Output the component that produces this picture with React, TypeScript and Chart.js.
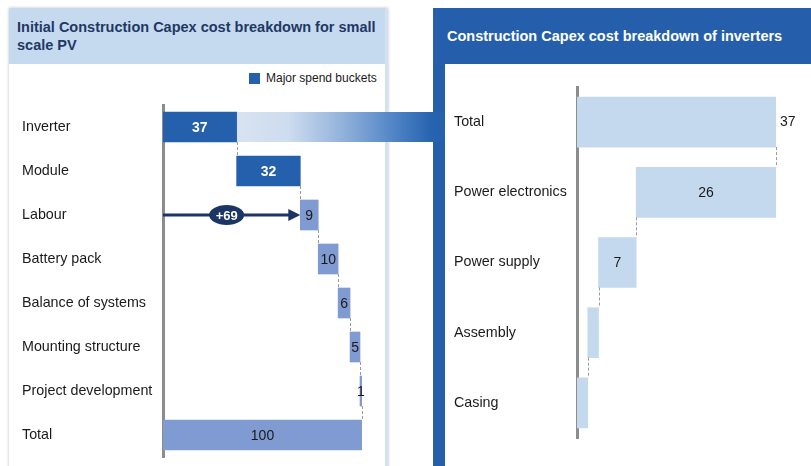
import React, { useEffect, useRef } from "react";
import Chart from "chart.js/auto";

const leftTitle = "Initial Construction Capex cost breakdown for small scale PV";
const rightTitle = "Construction Capex cost breakdown of inverters";
const legendLabel = "Major spend buckets";

const leftCategories = [
  "Inverter",
  "Module",
  "Labour",
  "Battery pack",
  "Balance of systems",
  "Mounting structure",
  "Project development",
  "Total",
];
const leftValues = [37, 32, 9, 10, 6, 5, 1, 100];
const majorBuckets = ["Inverter", "Module"];

const rightCategories = ["Total", "Power electronics", "Power supply", "Assembly", "Casing"];
const rightValues = [37, 26, 7, 2, 2];

const FONT = "'Liberation Sans', Arial, sans-serif";
const DARK_BLUE = "#2560ad";
const PERI = "#7f9bd1";
const LIGHT = "#c5d9ee";
const NAVY = "#1c3565";

function leftRanges(): [number, number][] {
  let cum = 0;
  return leftValues.map((v, i) => {
    if (i === leftValues.length - 1) return [0, v];
    const r: [number, number] = [cum, cum + v];
    cum += v;
    return r;
  });
}

function rightRanges(): [number, number][] {
  let remaining = rightValues[0];
  return rightValues.map((v, i) => {
    if (i === 0) return [0, v];
    const r: [number, number] = [remaining - v, remaining];
    remaining -= v;
    return r;
  });
}

function dashedV(ctx: CanvasRenderingContext2D, x: number, y0: number, y1: number) {
  ctx.save();
  ctx.strokeStyle = "#9a9a9a";
  ctx.lineWidth = 1;
  ctx.setLineDash([3, 2]);
  ctx.beginPath();
  ctx.moveTo(Math.round(x) + 0.5, y0);
  ctx.lineTo(Math.round(x) + 0.5, y1);
  ctx.stroke();
  ctx.restore();
}

const leftPlugin = {
  id: "leftDeco",
  beforeDatasetsDraw(chart: any) {
    const ctx = chart.ctx as CanvasRenderingContext2D;
    const meta = chart.getDatasetMeta(0);
    const first = meta.data[0];
    const h = first.height;
    const x0 = first.x;
    const x1 = chart.width;
    const g = ctx.createLinearGradient(x0, 0, x1, 0);
    g.addColorStop(0, "#d8e3f1");
    g.addColorStop(0.25, "#cddcef");
    g.addColorStop(0.52, "#8fb0da");
    g.addColorStop(0.78, "#4a80c4");
    g.addColorStop(0.93, "#2864b0");
    g.addColorStop(1, "#2560ad");
    ctx.save();
    ctx.fillStyle = g;
    ctx.fillRect(x0, first.y - h / 2, x1 - x0, h);
    ctx.restore();
  },
  afterDatasetsDraw(chart: any) {
    const ctx = chart.ctx as CanvasRenderingContext2D;
    const meta = chart.getDatasetMeta(0);
    const xs = chart.scales.x;
    const els = meta.data;
    for (let i = 0; i < els.length - 1; i++) {
      const a = els[i];
      const b = els[i + 1];
      dashedV(ctx, a.x, a.y + a.height / 2, b.y - b.height / 2);
    }
    els.forEach((el: any, i: number) => {
      const cat = leftCategories[i];
      const major = majorBuckets.includes(cat);
      ctx.save();
      ctx.font = (major ? "bold " : "") + "14px " + FONT;
      ctx.fillStyle = major ? "#ffffff" : "#1a1a1a";
      ctx.textAlign = "center";
      ctx.textBaseline = "middle";
      ctx.fillText(String(leftValues[i]), (el.x + el.base) / 2, el.y + 1);
      ctx.restore();
    });
    const labourIdx = leftCategories.indexOf("Labour");
    const lab = els[labourIdx];
    const ax0 = xs.getPixelForValue(0);
    const ax1 = lab.base;
    const ay = lab.y;
    ctx.save();
    ctx.strokeStyle = NAVY;
    ctx.fillStyle = NAVY;
    ctx.lineWidth = 3;
    ctx.beginPath();
    ctx.moveTo(ax0, ay);
    ctx.lineTo(ax1 - 10, ay);
    ctx.stroke();
    ctx.beginPath();
    ctx.moveTo(ax1, ay);
    ctx.lineTo(ax1 - 12, ay - 6);
    ctx.lineTo(ax1 - 12, ay + 6);
    ctx.closePath();
    ctx.fill();
    const before = leftValues.slice(0, labourIdx).reduce((s, v) => s + v, 0);
    const cx = (ax0 + ax1 - 10) / 2;
    ctx.beginPath();
    ctx.ellipse(cx, ay, 17.5, 10, 0, 0, Math.PI * 2);
    ctx.fill();
    ctx.fillStyle = "#ffffff";
    ctx.font = "bold 13px " + FONT;
    ctx.textAlign = "center";
    ctx.textBaseline = "middle";
    ctx.fillText("+" + before, cx, ay + 1);
    ctx.restore();
  },
};

const rightPlugin = {
  id: "rightDeco",
  afterDatasetsDraw(chart: any) {
    const ctx = chart.ctx as CanvasRenderingContext2D;
    const els = chart.getDatasetMeta(0).data;
    for (let i = 0; i < els.length - 1; i++) {
      const a = els[i];
      const b = els[i + 1];
      const x = i === 0 ? a.x : a.base;
      dashedV(ctx, x, a.y + a.height / 2, b.y - b.height / 2);
    }
    els.forEach((el: any, i: number) => {
      const v = rightValues[i];
      ctx.save();
      ctx.font = "14px " + FONT;
      ctx.fillStyle = "#1a1a1a";
      ctx.textBaseline = "middle";
      if (i === 0) {
        ctx.textAlign = "left";
        ctx.fillText(String(v), el.x + 4, el.y);
      } else if (v >= 5) {
        ctx.textAlign = "center";
        ctx.fillText(String(v), (el.x + el.base) / 2, el.y + 1);
      }
      ctx.restore();
    });
  },
};

export default function App() {
  const leftRef = useRef<HTMLCanvasElement>(null);
  const rightRef = useRef<HTMLCanvasElement>(null);

  useEffect(() => {
    const left = new Chart(leftRef.current!, {
      type: "bar",
      data: {
        labels: leftCategories,
        datasets: [
          {
            data: leftRanges() as any,
            backgroundColor: leftCategories.map((c) => (majorBuckets.includes(c) ? DARK_BLUE : PERI)),
            borderWidth: 0,
            borderSkipped: false,
            barThickness: 30,
          },
        ],
      },
      options: {
        indexAxis: "y",
        animation: false,
        responsive: false,
        layout: { padding: { left: 22, right: 83, top: 41, bottom: 9 } },
        plugins: { legend: { display: false }, tooltip: { enabled: false } },
        scales: {
          x: { display: false, min: 0, max: 100 },
          y: {
            grid: { display: false },
            border: { display: true, color: "#8c8c8c", width: 3 },
            ticks: { crossAlign: "far", color: "#1a1a1a", font: { family: FONT, size: 14.3 }, padding: 0 },
            afterFit: (s: any) => {
              s.width = 141;
            },
          },
        },
      },
      plugins: [leftPlugin],
    });

    const right = new Chart(rightRef.current!, {
      type: "bar",
      data: {
        labels: rightCategories,
        datasets: [
          {
            data: rightRanges() as any,
            backgroundColor: LIGHT,
            borderWidth: 0,
            borderSkipped: false,
            barThickness: 50,
          },
        ],
      },
      options: {
        indexAxis: "y",
        animation: false,
        responsive: false,
        layout: { padding: { left: 9, right: 35, top: 23, bottom: 28 } },
        plugins: { legend: { display: false }, tooltip: { enabled: false } },
        scales: {
          x: { display: false, min: 0, max: rightValues[0] },
          y: {
            grid: { display: false },
            border: { display: true, color: "#8c8c8c", width: 3 },
            ticks: { crossAlign: "far", color: "#1a1a1a", font: { family: FONT, size: 14.3 }, padding: 0 },
            afterFit: (s: any) => {
              s.width = 123;
            },
          },
        },
      },
      plugins: [rightPlugin],
    });

    return () => {
      left.destroy();
      right.destroy();
    };
  }, []);

  return (
    <div
      style={{
        position: "fixed",
        left: 0,
        top: 0,
        width: 811,
        height: 466,
        overflow: "hidden",
        background: "#ffffff",
        fontFamily: FONT,
      }}
    >
      <div
        style={{
          position: "absolute",
          left: 9,
          top: 8,
          width: 379,
          height: 470,
          background: "#ffffff",
          boxShadow: "0 0 3px rgba(0,0,0,0.25)",
          borderRight: "3px solid #d3e2f2",
          boxSizing: "border-box",
        }}
      >
        <div
          style={{
            height: 56,
            background: "#c6daef",
            color: "#1f3864",
            fontWeight: "bold",
            fontSize: 14.5,
            lineHeight: "18px",
            padding: "10px 0 0 8px",
            boxSizing: "border-box",
          }}
        >
          {leftTitle}
        </div>
      </div>
      <div style={{ position: "absolute", left: 249, top: 73, width: 11, height: 11, background: DARK_BLUE }} />
      <div style={{ position: "absolute", left: 266, top: 71, fontSize: 12, color: "#1a1a1a", lineHeight: "15px" }}>
        {legendLabel}
      </div>
      <div style={{ position: "absolute", left: 433, top: 8, width: 378, height: 470, background: "#255fac" }}>
        <div
          style={{
            position: "absolute",
            left: 14,
            top: 19,
            color: "#ffffff",
            fontWeight: "bold",
            fontSize: 14.5,
            lineHeight: "18px",
            whiteSpace: "nowrap",
          }}
        >
          {rightTitle}
        </div>
        <div style={{ position: "absolute", left: 12, top: 56, right: 0, bottom: 0, background: "#ffffff" }} />
      </div>
      <canvas
        ref={leftRef}
        width={445}
        height={402}
        style={{ position: "absolute", left: 0, top: 64, width: 445, height: 402 }}
      />
      <canvas
        ref={rightRef}
        width={366}
        height={402}
        style={{ position: "absolute", left: 445, top: 64, width: 366, height: 402 }}
      />
    </div>
  );
}
